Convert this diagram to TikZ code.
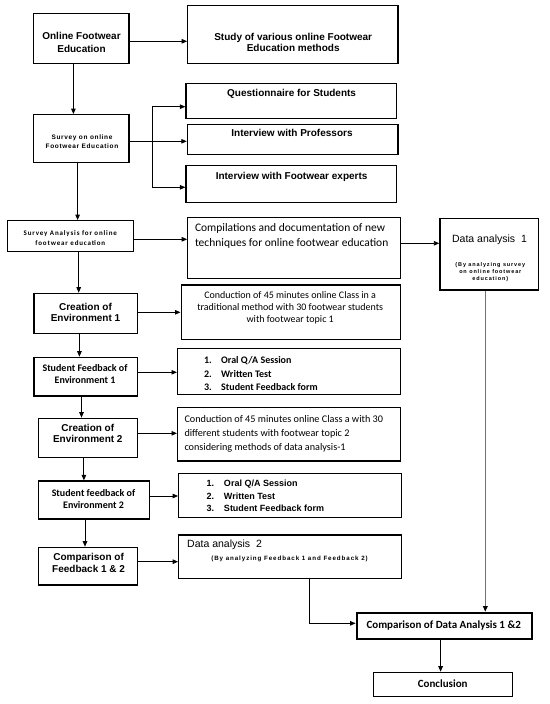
\documentclass[tikz,border=0pt]{standalone}
\usepackage{fontspec}
\setmainfont{Liberation Sans}
\newfontfamily\calfont{Carlito}
\newfontfamily\spfont[LetterSpace=15]{Liberation Sans}
\newfontfamily\spfontb[LetterSpace=10]{Liberation Sans}
\newfontfamily\spfontc[LetterSpace=16]{Liberation Sans}
\newfontfamily\spcal[LetterSpace=12]{Carlito}
\usetikzlibrary{arrows.meta,fit}
\begin{document}
\begin{tikzpicture}[x=1pt,y=-1pt,
  box/.style={draw=black, line width=1.2pt, inner sep=0pt},
  txt/.style={inner sep=0pt, align=center, text=black},
  arr/.style={draw=black, line width=0.9pt, -{Triangle[length=5.5pt,width=4.5pt]}},
  ln/.style={draw=black, line width=0.9pt},
  garr/.style={draw=black!55, line width=1.6pt, -{Triangle[length=5.5pt,width=4.5pt,color=black]}},
  arB/.style={font=\bfseries\fontsize{10}{#1}\selectfont},
  caB/.style={font=\calfont\bfseries\fontsize{10}{#1}\selectfont}
]
\useasboundingbox (0,0) rectangle (549,704);

% boxes
\node[box, fit={(33.6,13.3) (129,63.7)}] (ofe) {};
\node[box, fit={(187.8,5.7) (398,63.7)}] (study) {};
\node[box, fit={(186,83.3) (396.5,118.3)}] (quest) {};
\node[box, fit={(33.6,114.7) (129,162.3)}] (survey) {};
\node[box, fit={(187.4,124.3) (398,154.7)}] (prof) {};
\node[box, fit={(186,165.7) (396.5,202.3)}] (expert) {};
\node[box, fit={(7.7,220.7) (133.2,251.3)}] (survan) {};
\node[box, fit={(187.8,217.3) (400.7,278.3)}] (comp) {};
\node[box, fit={(439.9,218.3) (538.5,290)}] (da1) {};
\node[box, fit={(33.9,293.3) (137.4,333.3)}] (env1) {};
\node[box, fit={(181.1,285) (400.7,339.3)}] (cond1) {};
\node[box, fit={(33.9,357.3) (137.4,396)}] (sf1) {};
\node[box, fit={(177.6,348.7) (400.7,394.7)}] (list1) {};
\node[box, fit={(38.8,418.3) (137.4,457.3)}] (env2) {};
\node[box, fit={(177.6,407.7) (400.7,461)}] (cond2) {};
\node[box, fit={(38.8,481) (149.3,519)}] (sf2) {};
\node[box, fit={(178.7,473.3) (401.4,517.7)}] (list2) {};
\node[box, fit={(38.8,547.3) (137.8,585)}] (cf) {};
\node[box, fit={(178.7,535) (401.4,578.3)}] (da2) {};
\node[box, line width=2pt, fit={(356.6,612.7) (531.8,639)}] (cda) {};
\node[box, fit={(373.4,672.3) (512.6,696.7)}] (concl) {};

% texts
\node[txt, arB=13.6] (tofe) at (81.5,42.5) {Online Footwear\\Education};
\node[txt, arB=11.6] (tstudy) at (293.2,42.5) {Study of various online Footwear\\Education methods};
\node[txt, arB=12] (tquest) at (291.6,94.3) {Questionnaire for Students};
\node[txt, arB=12] (tprof) at (292,133.3) {Interview with Professors};
\node[txt, arB=12] (texp) at (291.6,176.7) {Interview with Footwear experts};
\node[txt, font=\spfontb\bfseries\fontsize{6.5}{9}\selectfont] (tsurvey) at (82,141.2) {Survey on online\\Footwear Education};
\node[txt, font=\spcal\bfseries\fontsize{7}{10}\selectfont] (tsurvan) at (70.3,238.3) {Survey Analysis for online\\footwear education};
\node[txt, align=left, anchor=west, font=\calfont\fontsize{11.5}{14.6}\selectfont] (tcomp) at (194.8,236) {Compilations and documentation of new\\techniques for online footwear education};
\node[txt, font=\fontsize{10.5}{12}\selectfont] (tda1) at (489.5,240) {Data analysis\ \ 1};
\node[txt, font=\spfontc\bfseries\fontsize{5.5}{7}\selectfont] (tda1s) at (490.3,272) {(By analyzing survey\\on online footwear\\education)};
\node[txt, arB=11.6] (tenv1) at (85.5,312.5) {Creation of\\Environment 1};
\node[txt, font=\calfont\fontsize{10}{12}\selectfont] (tcond1) at (290.2,308.1) {Conduction of 45 minutes online Class in a\\traditional method with 30 footwear students\\with footwear topic 1};
\node[txt, caB=11.7] (tsf1) at (85,374.2) {Student Feedback of\\Environment 1};
\node[txt, align=left, anchor=west, caB=13.6] (tlist1) at (203.8,373.6) {\makebox[17.2pt][l]{1.}Oral Q/A Session\\\makebox[17.2pt][l]{2.}Written Test\\\makebox[17.2pt][l]{3.}Student Feedback form};
\node[txt, arB=11] (tenv2) at (87.8,433.8) {Creation of\\Environment 2};
\node[txt, align=left, anchor=west, font=\calfont\fontsize{10.2}{14.2}\selectfont] (tcond2) at (184.3,433.6) {Conduction of 45 minutes online Class a with 30\\different students with footwear topic 2\\considering methods of data analysis-1};
\node[txt, caB=12.3] (tsf2) at (93.5,498.8) {Student feedback of\\Environment 2};
\node[txt, align=left, anchor=west, font=\bfseries\fontsize{9}{12.5}\selectfont] (tlist2) at (206.3,496.2) {\makebox[17.5pt][l]{1.}Oral Q/A Session\\\makebox[17.5pt][l]{2.}Written Test\\\makebox[17.5pt][l]{3.}Student Feedback form};
\node[txt, arB=11.7] (tcf) at (88.6,563.2) {Comparison of\\Feedback 1 \& 2};
\node[txt, anchor=west, font=\fontsize{10.5}{12}\selectfont] (tda2) at (187,544.3) {Data analysis\ \ 2};
\node[txt, font=\spfont\bfseries\fontsize{6.2}{8}\selectfont] (tda2s) at (289.5,559.3) {(By analyzing Feedback 1 and Feedback 2)};
\node[txt, font=\calfont\bfseries\fontsize{11}{13}\selectfont] (tcda) at (443.7,625) {Comparison of Data Analysis 1 \&2};
\node[txt, font=\calfont\bfseries\fontsize{11}{13}\selectfont] (tconcl) at (442.7,683.3) {Conclusion};

% connectors
\coordinate (b1) at (152.4,106.7);
\coordinate (b2) at (152.4,141.3);
\coordinate (b3) at (152.4,187.3);
\coordinate (b4) at (309.8,623.3);
\draw[arr] (ofe.east |- 0,41.3) -- (study.west |- 0,41.3);
\draw[arr] (ofe.south -| 73.4,0) -- (survey.north -| 73.4,0);
\draw[ln] (survey.east |- b2) -- (b2);
\draw[ln] (b1) -- (b3);
\draw[arr] (b1) -- (quest.west |- b1);
\draw[arr] (b2) -- (prof.west |- b2);
\draw[arr] (b3) -- (expert.west |- b3);
\draw[arr] (survey.south -| 77.6,0) -- (survan.north -| 77.6,0);
\draw[arr] (survan.east |- 0,239.3) -- (comp.west |- 0,239.3);
\draw[arr] (comp.east |- 0,243.3) -- (da1.west |- 0,243.3);
\draw[arr] (survan.south -| 78.7,0) -- (env1.north -| 78.7,0);
\draw[arr] (env1.east |- 0,312.3) -- (cond1.west |- 0,312.3);
\draw[arr] (env1.south -| 79.4,0) -- (sf1.north -| 79.4,0);
\draw[arr] (sf1.east |- 0,372.3) -- (list1.west |- 0,372.3);
\draw[arr] (sf1.south -| 81.5,0) -- (env2.north -| 81.5,0);
\draw[arr] (env2.east |- 0,433.3) -- (cond2.west |- 0,433.3);
\draw[arr] (env2.south -| 83.9,0) -- (sf2.north -| 83.9,0);
\draw[arr] (sf2.east |- 0,496) -- (list2.west |- 0,496);
\draw[arr] (sf2.south -| 85,0) -- (cf.north -| 85,0);
\draw[arr] (cf.east |- 0,561.7) -- (da2.west |- 0,561.7);
\draw[arr] (da2.south -| b4) -- (b4) -- (cda.west |- b4);
\draw[garr] (da1.south -| 485.3,0) -- (cda.north -| 485.3,0);
\draw[arr] (cda.south -| 440.6,0) -- (concl.north -| 440.6,0);
\end{tikzpicture}
\end{document}
